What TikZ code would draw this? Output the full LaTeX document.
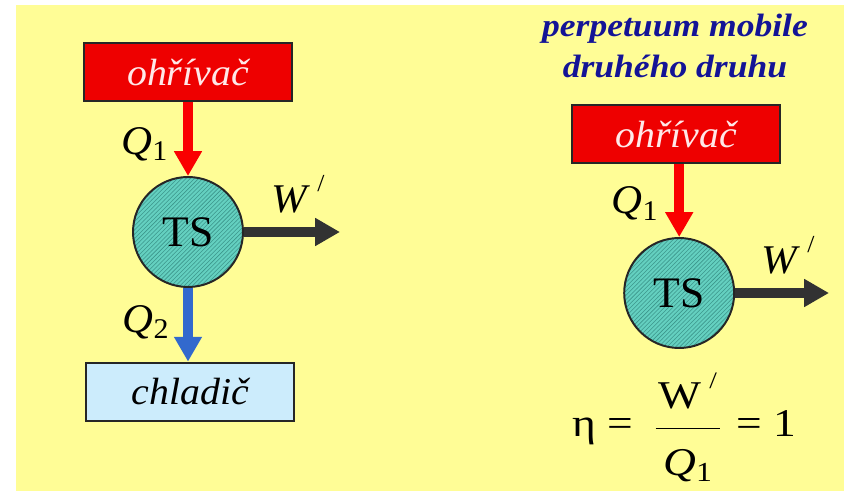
\documentclass[tikz,border=0pt]{standalone}
\usepackage{fontspec}
\setmainfont{Liberation Serif}
\usepackage{xcolor}
\usetikzlibrary{arrows.meta, positioning, patterns}

\definecolor{slideyellow}{RGB}{255,253,150}
\definecolor{heatred}{RGB}{238,0,0}
\definecolor{arrowred}{RGB}{250,0,0}
\definecolor{coolblue}{RGB}{204,236,252}
\definecolor{flowblue}{RGB}{50,105,205}
\definecolor{workgray}{RGB}{50,50,50}
\definecolor{tsteal}{RGB}{100,208,192}
\definecolor{tshatch}{RGB}{60,150,140}
\definecolor{titleblue}{RGB}{20,20,150}
\definecolor{heattext}{RGB}{255,232,232}

\newcommand{\wprime}[1]{#1\,\raisebox{1.1ex}{\scalebox{0.6}{/}}}

\begin{document}
\begin{tikzpicture}[
    >={Triangle[width=6.6mm,length=6.2mm]},
    flow/.style={->, line width=2.5mm},
    box/.style={
        draw=black!85,
        line width=1.4pt,
        minimum width=4.95cm,
        minimum height=1.45cm,
        inner sep=0pt,
        xscale=1.05,
        font=\fontsize{27}{30}\selectfont\itshape
    },
    heater/.style={box, fill=heatred, text=heattext},
    cooler/.style={box, fill=coolblue, text=black},
    engine/.style={
        circle,
        draw=black!85,
        line width=1.4pt,
        minimum size=2.75cm,
        inner sep=0pt,
        preaction={fill=tsteal},
        pattern=north east lines,
        pattern color=tshatch,
        font=\fontsize{31}{34}\selectfont
    },
    lab/.style={xscale=1.05, inner sep=1pt, font=\fontsize{29}{32}\selectfont},
    title/.style={
        xscale=1.1,
        align=center,
        text=titleblue,
        font=\fontsize{23}{29}\selectfont\bfseries\itshape
    }
]

\useasboundingbox (0,0) rectangle (21.1,-12.275);
\fill[slideyellow] (0.4,-0.125) rectangle (21.1,-12.275);

% ==================== heat engine ====================
\node[heater] (heatL) at (4.7,-1.81) {ohřívač};
\node[engine] (tsL) at (4.7,-5.8) {TS};
\node[cooler] (coldL) at (4.76,-9.79) {chladič};
\coordinate (wendL) at (8.5,-5.8);

\node[lab] (q1L) at (3.62,-3.6) {\textit{Q}\textsubscript{1}};
\node[lab] (q2L) at (3.65,-8.05) {\textit{Q}\textsubscript{2}};
\node[lab] (wL) at (7.45,-4.85) {\wprime{\textit{W}}};

\draw[flow, arrowred] (heatL.south) -- (tsL.north);
\draw[flow, workgray] (tsL.east) -- (wendL);
\draw[flow, flowblue] (tsL.south) -- (tsL.south |- coldL.north);

% ==================== perpetuum mobile ====================
\node[title] (title) at (16.875,-1.15) {perpetuum mobile\\druhého druhu};

\node[heater] (heatR) at (16.91,-3.35) {ohřívač};
\node[engine] (tsR) at (16.98,-7.325) {TS};
\coordinate (wendR) at (20.725,-7.325);

\node[lab] (q1R) at (15.875,-5.08) {\textit{Q}\textsubscript{1}};
\node[lab] (wR) at (19.7,-6.375) {\wprime{\textit{W}}};

\draw[flow, arrowred] (tsR |- heatR.south) -- (tsR.north);
\draw[flow, workgray] (tsR.east) -- (wendR);

\node[lab, xscale=1.1, font=\fontsize{28}{30}\selectfont] (eta) at (17.1,-10.68)
{η =\hspace{0.45cm}$\displaystyle\frac{\makebox[1.4cm]{\wprime{W}\rule[-0.45em]{0pt}{0pt}}}{\mbox{\rule{0pt}{1.15em}\textit{Q}\textsubscript{1}}}$\hspace{0.3cm}= 1};

\end{tikzpicture}
\end{document}
